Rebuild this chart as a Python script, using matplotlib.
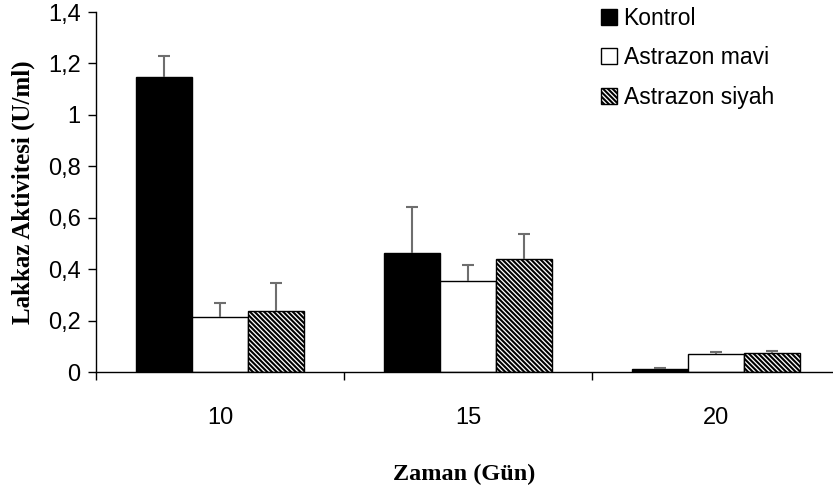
import matplotlib
matplotlib.use("Agg")
import matplotlib.pyplot as plt
import numpy as np

categories = ["10", "15", "20"]
series = ["Kontrol", "Astrazon mavi", "Astrazon siyah"]
kontrol = [1.147, 0.463, 0.012]
mavi = [0.214, 0.355, 0.070]
siyah = [0.237, 0.440, 0.075]
kontrol_err = [0.082, 0.180, 0.005]
mavi_err = [0.054, 0.060, 0.008]
siyah_err = [0.109, 0.095, 0.008]
yticks = [0, 0.2, 0.4, 0.6, 0.8, 1.0, 1.2, 1.4]
ytick_labels = ["0", "0,2", "0,4", "0,6", "0,8", "1", "1,2", "1,4"]

plt.rcParams['hatch.linewidth'] = 1.5
sans = ['Liberation Sans', 'DejaVu Sans']
serif = ['Liberation Serif', 'DejaVu Serif']

fig = plt.figure(figsize=(8.33, 4.98), dpi=100)
ax = fig.add_axes([96/833, 126/498, 1 - 96/833, 360/498])

x = np.arange(len(categories))
w = 0.226
vals = [kontrol, mavi, siyah]
errs = [kontrol_err, mavi_err, siyah_err]
faces = ['black', 'white', 'white']
hatches = [None, None, '\\' * 7]
for i, (v, e) in enumerate(zip(vals, errs)):
    pos = x + (i - 1) * w
    ax.bar(pos, v, w, color=faces[i], edgecolor='black', linewidth=1.0,
           hatch=hatches[i], label=series[i], zorder=2)
    eb = ax.errorbar(pos, v, yerr=[np.zeros(len(e)), e], fmt='none',
                     ecolor='#6e6e6e', elinewidth=1.5, capsize=4, capthick=1.5, zorder=3)
    caps = eb[1]
    if len(caps) == 2:
        caps[0].set_visible(False)

ax.set_xlim(-0.5, 2.47)
ax.set_ylim(0, 1.4)
ax.set_yticks(yticks)
ax.set_yticklabels(ytick_labels, fontfamily=sans, fontsize=17)
ax.set_xticks(x)
ax.set_xticklabels(categories, fontfamily=sans, fontsize=17)
ax.tick_params(axis='x', which='major', length=0, pad=25)
ax.set_xticks([-0.5, 0.5, 1.5], minor=True)
ax.tick_params(axis='x', which='minor', length=6, direction='out', width=1)
ax.tick_params(axis='y', length=6, direction='out', width=1, pad=5)
for s in ['top', 'right']:
    ax.spines[s].set_visible(False)
ax.spines['left'].set_linewidth(1.0)
ax.spines['bottom'].set_linewidth(1.0)

ax.set_ylabel("Lakkaz Aktivitesi (U/ml)", fontfamily=serif, fontweight='bold',
              fontsize=18, labelpad=9)
ax.set_xlabel("Zaman (Gün)", fontfamily=serif, fontweight='bold', fontsize=17.5,
              labelpad=25)

leg = ax.legend(loc='upper left', bbox_to_anchor=(596/833, 1.0 - 2/498), bbox_transform=fig.transFigure,
                frameon=False, prop={'family': sans, 'size': 16.5},
                handlelength=0.7, handleheight=0.7, handletextpad=0.3,
                labelspacing=0.72, borderaxespad=0, borderpad=0.2)

fig.savefig("out.png", dpi=100)
